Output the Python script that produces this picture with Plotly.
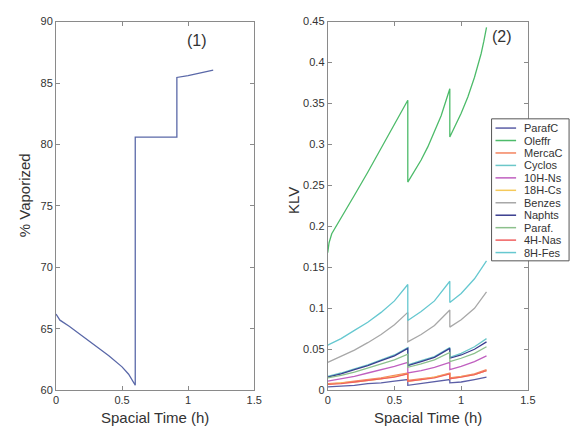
import plotly.graph_objects as go

W, H = 581, 439

# ---------------- data ----------------
# Panel (1): % vaporized vs spacial time
vap_x = [0, 0.03, 0.1, 0.2, 0.3, 0.4, 0.5, 0.55, 0.6, 0.6, 0.915, 0.915, 1.0, 1.1, 1.19]
vap_y = [66.2, 65.7, 65.2, 64.4, 63.6, 62.8, 61.9, 61.3, 60.4, 80.6, 80.6, 85.45, 85.6, 85.85, 86.05]

# Panel (2): KLV vs spacial time (shared x, duplicates at the discontinuities)
klv_x = [0, 0.1, 0.2, 0.3, 0.4, 0.5, 0.6, 0.6, 0.7, 0.8, 0.915, 0.915, 1.0, 1.1, 1.19]
oleffr_x = [0, 0.01, 0.03, 0.1, 0.2, 0.3, 0.4, 0.5, 0.6,
            0.6, 0.65, 0.7, 0.75, 0.8, 0.85, 0.915,
            0.915, 1.0, 1.05, 1.1, 1.125, 1.15, 1.17, 1.19]
oleffr_y = [0.168, 0.180, 0.191, 0.211, 0.238, 0.266, 0.295, 0.324, 0.354,
            0.254, 0.267, 0.281, 0.297, 0.315, 0.335, 0.368,
            0.309, 0.338, 0.358, 0.382, 0.396, 0.411, 0.426, 0.443]

series_names = ["ParafC", "Oleffr", "MercaC", "Cyclos", "10H-Ns", "18H-Cs",
                "Benzes", "Naphts", "Paraf.", "4H-Nas", "8H-Fes"]
series_colors = ["#5b5ea6", "#4dbb6a", "#f4845f", "#6cc7c9", "#c060c0", "#f5c95a",
                 "#a8a8a8", "#3a3d8f", "#8cc08c", "#f06060", "#66c8d0"]
klv_values = {
    "ParafC": [0.004, 0.005, 0.006, 0.008, 0.009, 0.011, 0.013, 0.006, 0.008, 0.010, 0.013, 0.009, 0.010, 0.013, 0.016],
    "MercaC": [0.008, 0.009, 0.011, 0.013, 0.015, 0.018, 0.021, 0.012, 0.014, 0.016, 0.021, 0.015, 0.017, 0.020, 0.025],
    "Cyclos": [0.017, 0.021, 0.026, 0.031, 0.037, 0.043, 0.052, 0.031, 0.036, 0.041, 0.052, 0.040, 0.045, 0.053, 0.063],
    "10H-Ns": [0.011, 0.014, 0.017, 0.021, 0.025, 0.029, 0.034, 0.021, 0.024, 0.028, 0.034, 0.025, 0.029, 0.035, 0.042],
    "18H-Cs": [0.007, 0.009, 0.010, 0.012, 0.014, 0.017, 0.020, 0.011, 0.013, 0.016, 0.020, 0.014, 0.016, 0.019, 0.024],
    "Benzes": [0.034, 0.041, 0.049, 0.058, 0.068, 0.080, 0.095, 0.059, 0.068, 0.079, 0.098, 0.077, 0.086, 0.100, 0.120],
    "Naphts": [0.016, 0.020, 0.025, 0.030, 0.036, 0.042, 0.051, 0.030, 0.035, 0.040, 0.051, 0.039, 0.043, 0.050, 0.059],
    "Paraf.": [0.015, 0.018, 0.022, 0.027, 0.032, 0.037, 0.044, 0.028, 0.032, 0.037, 0.046, 0.035, 0.039, 0.045, 0.053],
    "4H-Nas": [0.007, 0.008, 0.010, 0.012, 0.014, 0.016, 0.020, 0.011, 0.013, 0.015, 0.020, 0.014, 0.016, 0.019, 0.024],
    "8H-Fes": [0.055, 0.063, 0.073, 0.083, 0.095, 0.109, 0.129, 0.085, 0.096, 0.109, 0.133, 0.107, 0.118, 0.136, 0.158],
}

x_ticks = [0, 0.5, 1, 1.5]
x_ticklabels = ["0", "0.5", "1", "1.5"]
vap_ticks = [60, 65, 70, 75, 80, 85, 90]
klv_ticks = [0, 0.05, 0.1, 0.15, 0.2, 0.25, 0.3, 0.35, 0.4, 0.45]
klv_ticklabels = ["0", "0.05", "0.1", "0.15", "0.2", "0.25", "0.3", "0.35", "0.4", "0.45"]

# ---------------- figure ----------------
def px_x(p):
    return p / W

def px_y(p):
    return 1 - p / H

TOP, BOT = 16, 395
L1, R1 = 54, 256
L2, R2 = 331, 535

fig = go.Figure()

fig.add_trace(go.Scatter(x=vap_x, y=vap_y, mode="lines",
                         line=dict(color="#5a68a8", width=1.3),
                         xaxis="x", yaxis="y", showlegend=False))

for name, color in zip(series_names, series_colors):
    if name == "Oleffr":
        xs, ys = oleffr_x, oleffr_y
    else:
        xs, ys = klv_x, klv_values[name]
    fig.add_trace(go.Scatter(x=xs, y=ys, mode="lines", name=name,
                             line=dict(color=color, width=1.3),
                             xaxis="x2", yaxis="y2", showlegend=False))

axis_common = dict(showline=True, linecolor="#8a8a8a", linewidth=1, mirror="ticks",
                   ticks="inside", ticklen=4, tickcolor="#8a8a8a", showgrid=False,
                   zeroline=False,
                   tickfont=dict(family="Liberation Sans", size=11, color="#333333"))

fig.update_layout(
    width=W, height=H,
    margin=dict(l=0, r=0, t=0, b=0),
    paper_bgcolor="white", plot_bgcolor="white",
    xaxis=dict(domain=[px_x(L1), px_x(R1)], range=[0, 1.5], tickvals=x_ticks,
               ticktext=x_ticklabels, anchor="y", **axis_common),
    yaxis=dict(domain=[px_y(BOT), px_y(TOP)], range=[60, 90], tickvals=vap_ticks,
               anchor="x", **axis_common),
    xaxis2=dict(domain=[px_x(L2), px_x(R2)], range=[0, 1.5], tickvals=x_ticks,
                ticktext=x_ticklabels, anchor="y2", **axis_common),
    yaxis2=dict(domain=[px_y(BOT), px_y(TOP)], range=[0, 0.45], tickvals=klv_ticks,
                ticktext=klv_ticklabels, anchor="x2", **axis_common),
)

title_font = dict(family="Liberation Sans", size=15, color="#333333")
annotations = [
    dict(text="Spacial Time (h)", x=px_x((L1 + R1) / 2), y=px_y(423), xref="paper", yref="paper",
         showarrow=False, font=title_font, xanchor="center", yanchor="middle"),
    dict(text="Spacial Time (h)", x=px_x((L2 + R2) / 2), y=px_y(423), xref="paper", yref="paper",
         showarrow=False, font=title_font, xanchor="center", yanchor="middle"),
    dict(text="% Vaporized", x=px_x(22), y=px_y(195), xref="paper", yref="paper",
         showarrow=False, font=title_font, textangle=-90, xanchor="center", yanchor="middle"),
    dict(text="KLV", x=px_x(296), y=px_y(200), xref="paper", yref="paper",
         showarrow=False, font=title_font, textangle=-90, xanchor="center", yanchor="middle"),
    dict(text="(1)", x=px_x(198), y=px_y(35), xref="paper", yref="paper",
         showarrow=False, font=dict(family="Liberation Sans", size=16, color="#333333"),
         xanchor="center", yanchor="middle"),
    dict(text="(2)", x=px_x(509), y=px_y(31), xref="paper", yref="paper",
         showarrow=False, font=dict(family="Liberation Sans", size=16, color="#333333"),
         xanchor="center", yanchor="middle"),
]

# custom compact legend
LEG_L, LEG_R, LEG_T, LEG_B = 498, 577, 116, 262
row0, row_step = 125.5, 12.8
shapes = [dict(type="rect", xref="paper", yref="paper",
               x0=px_x(LEG_L), x1=px_x(LEG_R), y0=px_y(LEG_B), y1=px_y(LEG_T),
               line=dict(color="#555555", width=1), fillcolor="white", layer="above")]
for i, (name, color) in enumerate(zip(series_names, series_colors)):
    yy = row0 + i * row_step
    shapes.append(dict(type="line", xref="paper", yref="paper",
                       x0=px_x(502), x1=px_x(523), y0=px_y(yy), y1=px_y(yy),
                       line=dict(color=color, width=1.5), layer="above"))
    annotations.append(dict(text=name, x=px_x(529), y=px_y(yy), xref="paper", yref="paper",
                            showarrow=False, xanchor="left", yanchor="middle",
                            font=dict(family="Liberation Sans", size=11, color="#333333")))

fig.update_layout(annotations=annotations, shapes=shapes)

fig.write_html("out.html")
